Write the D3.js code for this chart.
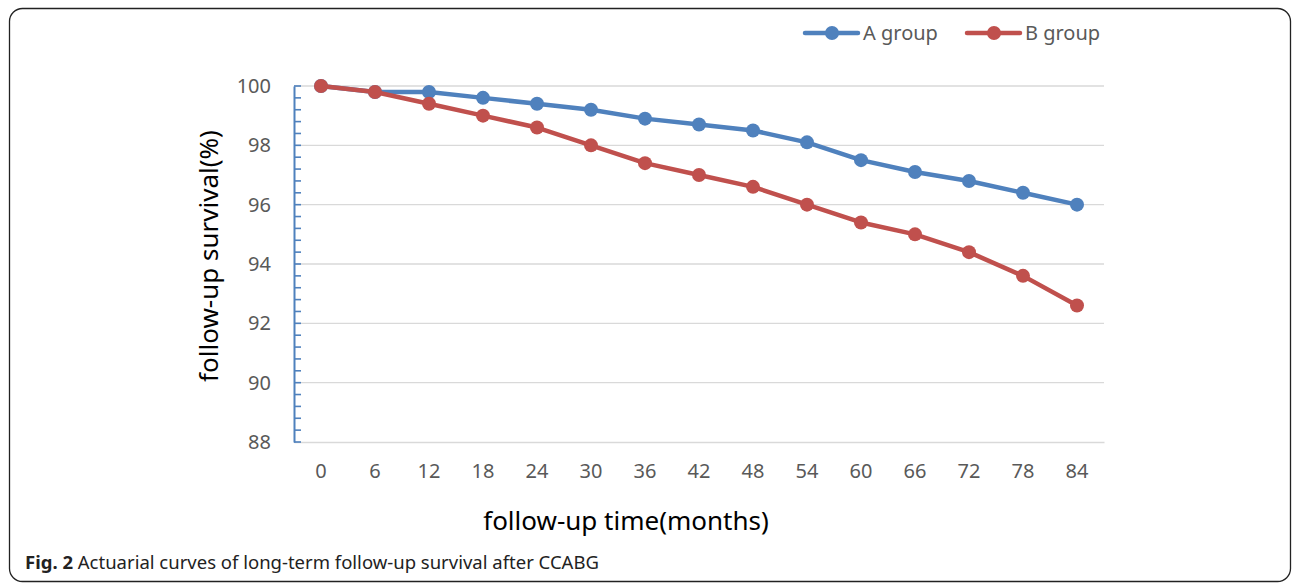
<!DOCTYPE html>
<html>
<head>
<meta charset="utf-8">
<script src="https://cdn.jsdelivr.net/npm/d3@7"></script>
<style>
  body { margin: 0; background: #fff; }
  svg { display: block; font-family: "Noto Sans", "Open Sans", sans-serif; }
</style>
</head>
<body>
<svg id="chart" width="1292" height="584"></svg>
<script>
// follow-up months and survival (%) for each group
const months = [0, 6, 12, 18, 24, 30, 36, 42, 48, 54, 60, 66, 72, 78, 84];
const groupA = [100, 99.8, 99.8, 99.6, 99.4, 99.2, 98.9, 98.7, 98.5, 98.1, 97.5, 97.1, 96.8, 96.4, 96.0];
const groupB = [100, 99.8, 99.4, 99.0, 98.6, 98.0, 97.4, 97.0, 96.6, 96.0, 95.4, 95.0, 94.4, 93.6, 92.6];
const yTicks = [88, 90, 92, 94, 96, 98, 100];

const series = [
  { name: 'A group', values: groupA, color: '#4f81bd' },
  { name: 'B group', values: groupB, color: '#c0504d' }
];

const svg = d3.select('#chart');
const plot = { left: 294, right: 1104, top: 86, bottom: 442 };

// outer frame
svg.append('rect')
  .attr('x', 9.5).attr('y', 8.5)
  .attr('width', 1281).attr('height', 573)
  .attr('rx', 13)
  .attr('fill', 'none')
  .attr('stroke', '#222')
  .attr('stroke-width', 1.3);

const x = d3.scaleBand()
  .domain(months)
  .range([plot.left, plot.right]);

const y = d3.scaleLinear()
  .domain([88, 100])
  .range([plot.bottom, plot.top]);

// gridlines
svg.append('g')
  .selectAll('line')
  .data(yTicks.slice(1))
  .join('line')
  .attr('x1', plot.left).attr('x2', plot.right)
  .attr('y1', d => y(d)).attr('y2', d => y(d))
  .attr('stroke', '#d9d9d9')
  .attr('stroke-width', 1.3);

// x axis
const xAxis = svg.append('g')
  .attr('transform', `translate(0,${plot.bottom})`)
  .call(d3.axisBottom(x).tickSize(0).tickPadding(22));
xAxis.select('.domain').attr('stroke', '#d9d9d9').attr('stroke-width', 1.3);
xAxis.selectAll('text')
  .attr('font-size', 20)
  .attr('fill', '#595959')
  .attr('font-family', '"Noto Sans", sans-serif');

// y axis: blue line with inward minor ticks
const yAxis = svg.append('g')
  .attr('transform', `translate(${plot.left},0)`)
  .call(d3.axisLeft(y).tickValues(yTicks).tickSize(0).tickPadding(23));
yAxis.select('.domain').attr('stroke', '#4f81bd').attr('stroke-width', 2);
yAxis.selectAll('text')
  .attr('font-size', 20)
  .attr('fill', '#595959')
  .attr('font-family', '"Noto Sans", sans-serif');

const minor = d3.range(88, 100.01, 0.4);
svg.append('g')
  .selectAll('line')
  .data(minor)
  .join('line')
  .attr('x1', plot.left).attr('x2', plot.left + 7)
  .attr('y1', d => y(d)).attr('y2', d => y(d))
  .attr('stroke', '#4f81bd')
  .attr('stroke-width', 1.6);

// lines and markers
const line = d3.line()
  .x((d, i) => x(months[i]) + x.bandwidth() / 2)
  .y(d => y(d));

series.forEach(s => {
  const g = svg.append('g');
  g.append('path')
    .datum(s.values)
    .attr('d', line)
    .attr('fill', 'none')
    .attr('stroke', s.color)
    .attr('stroke-width', 4.5)
    .attr('stroke-linejoin', 'round');
  g.selectAll('circle')
    .data(s.values)
    .join('circle')
    .attr('cx', (d, i) => x(months[i]) + x.bandwidth() / 2)
    .attr('cy', d => y(d))
    .attr('r', 7)
    .attr('fill', s.color);
});

// legend
const legendX = [805, 967];
series.forEach((s, i) => {
  const g = svg.append('g').attr('transform', `translate(${legendX[i]},33)`);
  g.append('line')
    .attr('x1', 0).attr('x2', 53)
    .attr('stroke', s.color)
    .attr('stroke-width', 4.5)
    .attr('stroke-linecap', 'round');
  g.append('circle').attr('cx', 27).attr('r', 7).attr('fill', s.color);
  g.append('text')
    .attr('x', 58).attr('dy', '0.35em')
    .attr('font-size', 20)
    .attr('fill', '#595959')
    .text(s.name);
});

// axis titles
svg.append('text')
  .attr('x', 626)
  .attr('y', 530)
  .attr('text-anchor', 'middle')
  .attr('font-size', 26)
  .attr('fill', '#000')
  .text('follow-up time(months)');

svg.append('text')
  .attr('transform', 'translate(218,256) rotate(-90)')
  .attr('text-anchor', 'middle')
  .attr('font-size', 26)
  .attr('fill', '#000')
  .text('follow-up survival(%)');

// caption
const cap = svg.append('text')
  .attr('x', 25).attr('y', 569)
  .attr('font-size', 18.5)
  .attr('fill', '#222');
cap.append('tspan').attr('font-weight', 'bold').text('Fig. 2');
cap.append('tspan').text(' Actuarial curves of long-term follow-up survival after CCABG');
</script>
</body>
</html>
